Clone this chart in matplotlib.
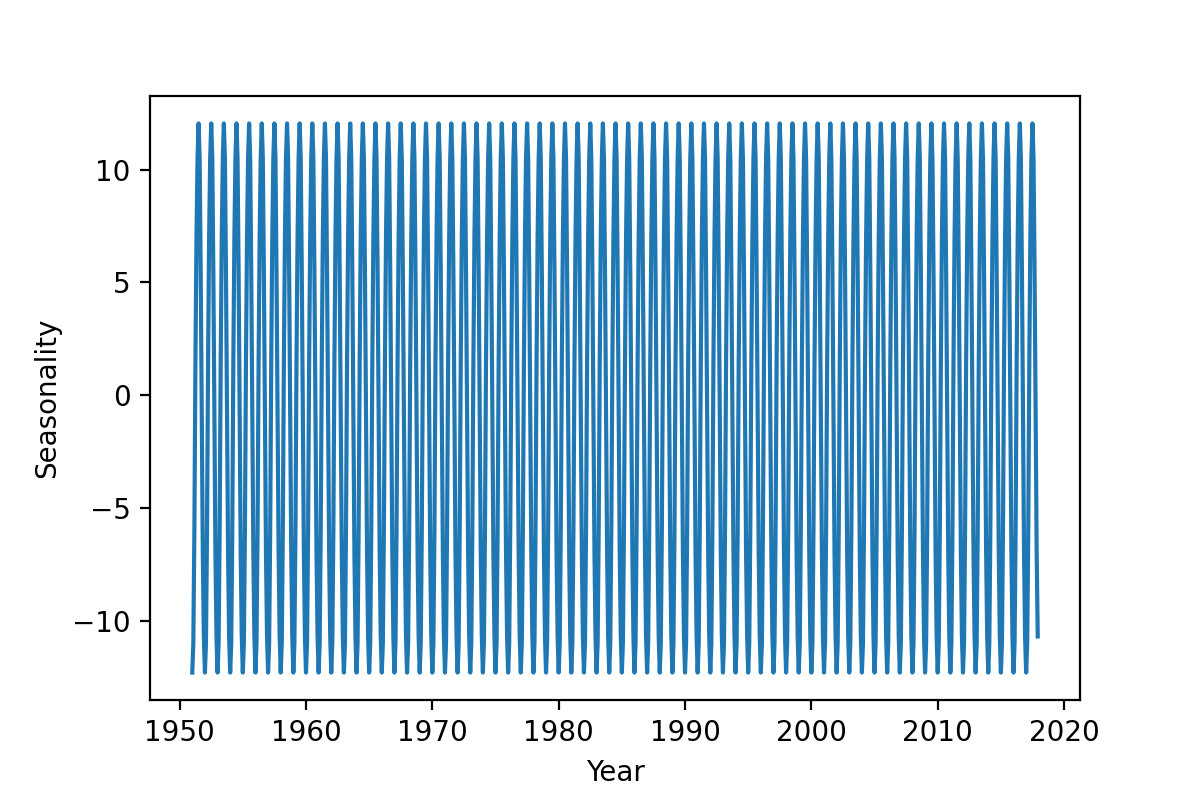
import numpy as np
import matplotlib
matplotlib.use("Agg")
import matplotlib.pyplot as plt

# Seasonal component (repeats every year), Jan..Dec
seasonal_pattern = [-12.3, -11.0, -6.0, 1.5, 7.0, 10.5, 12.05, 10.5, 5.5, -1.0, -7.0, -10.7]
start_year = 1951
end_year = 2017

n_years = end_year - start_year + 1
years = start_year + np.arange(n_years * 12) / 12.0
values = np.tile(seasonal_pattern, n_years)

fig, ax = plt.subplots(figsize=(6, 4), dpi=200)
fig.subplots_adjust(left=0.125, right=0.9, top=0.88, bottom=0.125)
ax.plot(years, values, color="#1f77b4", linewidth=1.5)
ax.set_xlabel("Year")
ax.set_ylabel("Seasonality")
ax.set_xticks([1950, 1960, 1970, 1980, 1990, 2000, 2010, 2020])
ax.set_yticks([-10, -5, 0, 5, 10])
fig.savefig("out.png", dpi=200)
